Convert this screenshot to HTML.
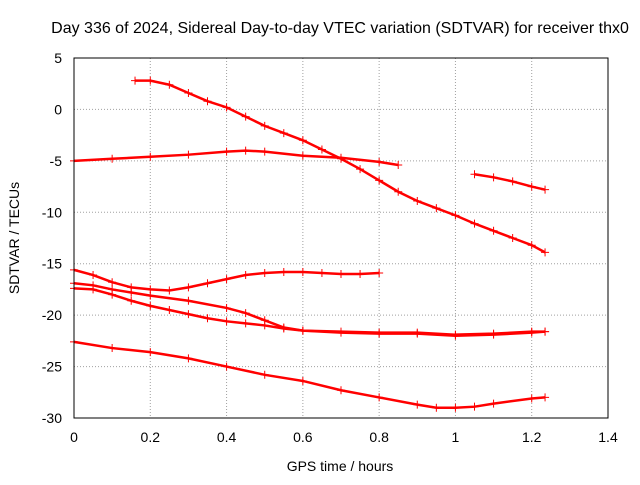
<!DOCTYPE html>
<html><head><meta charset="utf-8"><style>
body{margin:0;background:#fff}
svg text{font-family:"Liberation Sans",sans-serif;font-size:14px;fill:#000}
</style></head><body>
<svg id="chart" width="640" height="480" xmlns="http://www.w3.org/2000/svg">
<rect width="640" height="480" fill="#fff"/>
<text x="340" y="33" text-anchor="middle" style="font-size:16px">Day 336 of 2024, Sidereal Day-to-day VTEC variation (SDTVAR) for receiver thx0</text>
<text x="340" y="471" text-anchor="middle">GPS time / hours</text>
<text transform="translate(19,238) rotate(-90)" text-anchor="middle">SDTVAR / TECUs</text>
<g id="grid"></g>
<g id="series"></g>
<rect x="74" y="58" width="534" height="360" fill="none" stroke="#000" stroke-width="1"/>
</svg>
<script>
const xTicks=[0,0.2,0.4,0.6,0.8,1,1.2,1.4];
const xTickLabels=["0","0.2","0.4","0.6","0.8","1","1.2","1.4"];
const yTicks=[-30,-25,-20,-15,-10,-5,0,5];
const yTickLabels=["-30","-25","-20","-15","-10","-5","0","5"];
const seriesA_x=[0.16,0.2,0.25,0.3,0.35,0.4,0.45,0.5,0.55,0.6,0.65,0.7,0.75,0.8,0.85,0.9,0.95,1.0,1.05,1.1,1.15,1.2,1.235];
const seriesA_y=[2.8,2.8,2.4,1.6,0.8,0.2,-0.7,-1.6,-2.3,-3.0,-3.9,-4.8,-5.8,-6.9,-8.0,-8.9,-9.6,-10.3,-11.1,-11.8,-12.5,-13.2,-13.9];
const seriesB_x=[0,0.1,0.2,0.3,0.4,0.45,0.5,0.6,0.7,0.8,0.85];
const seriesB_y=[-5.0,-4.8,-4.6,-4.4,-4.1,-4.0,-4.1,-4.5,-4.7,-5.1,-5.4];
const seriesC_x=[1.05,1.1,1.15,1.2,1.235];
const seriesC_y=[-6.3,-6.6,-7.0,-7.5,-7.8];
const seriesD_x=[0,0.05,0.1,0.15,0.2,0.25,0.3,0.35,0.4,0.45,0.5,0.55,0.6,0.65,0.7,0.75,0.8];
const seriesD_y=[-15.6,-16.1,-16.8,-17.3,-17.5,-17.6,-17.3,-16.9,-16.5,-16.1,-15.9,-15.8,-15.8,-15.9,-16.0,-16.0,-15.9];
const seriesE_x=[0,0.05,0.1,0.15,0.2,0.3,0.4,0.45,0.5,0.55,0.6,0.7,0.8,0.9,1.0,1.1,1.2,1.235];
const seriesE_y=[-16.9,-17.1,-17.5,-17.8,-18.1,-18.6,-19.3,-19.8,-20.5,-21.2,-21.5,-21.6,-21.7,-21.7,-21.9,-21.8,-21.6,-21.6];
const seriesF_x=[0,0.05,0.1,0.15,0.2,0.25,0.3,0.35,0.4,0.45,0.5,0.55,0.6,0.7,0.8,0.9,1.0,1.1,1.2,1.235];
const seriesF_y=[-17.4,-17.5,-18.0,-18.6,-19.1,-19.5,-19.9,-20.3,-20.6,-20.8,-21.0,-21.3,-21.5,-21.7,-21.8,-21.8,-22.0,-21.9,-21.7,-21.6];
const seriesG_x=[0,0.1,0.2,0.3,0.4,0.5,0.6,0.7,0.8,0.9,0.95,1.0,1.05,1.1,1.2,1.235];
const seriesG_y=[-22.6,-23.2,-23.6,-24.2,-25.0,-25.8,-26.4,-27.3,-28.0,-28.7,-29.0,-29.0,-28.9,-28.6,-28.1,-28.0];
const allSeries=[[seriesA_x,seriesA_y],[seriesB_x,seriesB_y],[seriesC_x,seriesC_y],[seriesD_x,seriesD_y],[seriesE_x,seriesE_y],[seriesF_x,seriesF_y],[seriesG_x,seriesG_y]];
const NS="http://www.w3.org/2000/svg";
const X=v=>74+v*(534/1.4);
const Y=v=>58+(5-v)*(360/35);
const grid=document.getElementById('grid'),svg=document.getElementById('chart'),sg=document.getElementById('series');
function mk(t,a,p){const e=document.createElementNS(NS,t);for(const k in a)e.setAttribute(k,a[k]);p.appendChild(e);return e;}
xTicks.forEach((t,i)=>{
  const l=mk('line',{x1:X(t),x2:X(t),y1:58,y2:418,stroke:'#a0a0a0','stroke-dasharray':'1,2'},grid);
  
  
  const tx=mk('text',{x:X(t),y:442,'text-anchor':'middle'},svg);tx.textContent=xTickLabels[i];
  
  
});
yTicks.forEach((t,i)=>{
  const l=mk('line',{x1:74,x2:608,y1:Y(t),y2:Y(t),stroke:'#a0a0a0','stroke-dasharray':'1,2'},grid);
  
  
  const tx=mk('text',{x:62,y:Y(t)+5,'text-anchor':'end'},svg);tx.textContent=yTickLabels[i];
  
  
});
allSeries.forEach(([xs,ys],si)=>{
  const pts=xs.map((x,i)=>X(x)+','+Y(ys[i])).join(' ');
  const pl=mk('polyline',{points:pts,fill:'none',stroke:'#f00','stroke-width':2.5},sg);
  
  
  xs.forEach((x,i)=>{
    const cx=X(x),cy=Y(ys[i]);
    const m=mk('path',{d:`M${cx-4} ${cy}H${cx+4}M${cx} ${cy-4}V${cy+4}`,stroke:'#f00','stroke-width':1},sg);
    
    
  });
});
</script>
</body></html>
